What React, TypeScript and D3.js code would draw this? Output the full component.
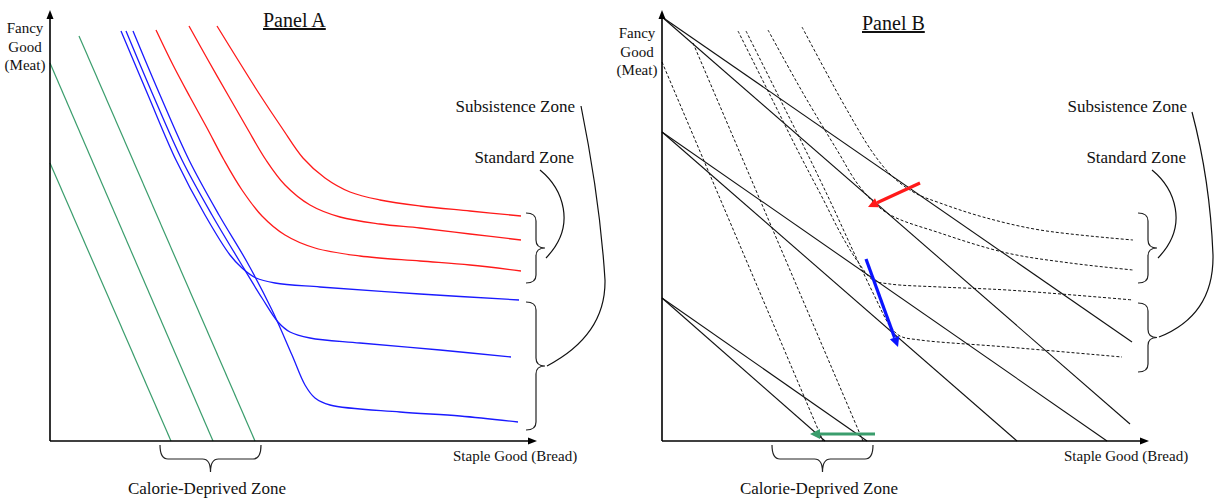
import React, { useEffect } from "react";
import * as d3 from "d3";

type Pt = [number, number];

// ---------- data (x = staple good / bread, y = fancy good / meat), arbitrary units ----------
const X_MAX = 97.4;
const Y_MAX = 86.2;

// Panel A: indifference curves
const redCurvesA: Pt[][] = [
  [[21.2, 82.2], [24.6, 75.2], [28, 68.8], [31.4, 62.6], [34.8, 56.2], [38.4, 50.2], [42.4, 45], [47, 41.2], [53, 38.6], [62, 37], [74, 36], [84, 35.2], [94.2, 34]],
  [[27.8, 83], [31.6, 76.2], [35.6, 69.2], [39.4, 62.6], [43.2, 56.2], [47, 51.2], [52, 47.2], [58, 44.8], [66, 43.4], [74, 42.6], [84, 41.4], [94.2, 40.2]],
  [[33.4, 83], [37.6, 76.2], [42, 69.2], [46.4, 62.6], [50.6, 56.6], [55, 52.6], [60, 49.8], [66, 48.2], [74, 47], [84, 46], [94.2, 45]],
];
const blueCurvesA: Pt[][] = [
  [[14.2, 82], [19.6, 69.2], [25.2, 56.2], [31, 45.2], [36, 37.2], [38.4, 34.6], [41.2, 32.6], [45, 31.6], [54, 30.8], [74, 29.4], [93.8, 28.2]],
  [[15.2, 82], [20.6, 69.2], [26.4, 56.2], [32.4, 45.2], [38, 35.8], [42.4, 28.6], [45.6, 23.8], [48, 21.8], [52, 20.6], [62, 19.6], [78, 18.2], [92.2, 16.8]],
  [[16.6, 82], [22, 69.2], [27.8, 56.2], [33.8, 45.2], [39.4, 35.8], [44.4, 26.2], [48.4, 17.2], [51, 11.2], [53, 8.6], [56, 7.2], [70, 5.8], [82, 5], [93.6, 3.8]],
];
const greenLinesA: Pt[][] = [
  [[0, 55.6], [24.2, 0]],
  [[0, 75.6], [32.6, 0]],
  [[5.8, 81], [41, 0]],
];

// Panel B: dashed indifference curves
const redLikeCurvesB: Pt[][] = [
  [[28, 82.8], [32.6, 74.2], [37, 66.2], [42.2, 57.6], [46.2, 52.8], [50.6, 49.6], [55.6, 47.6], [64.2, 44.8], [75.6, 42.2], [94.2, 40.2]],
  [[21.2, 82.2], [25.6, 74.2], [29, 68.2], [35, 58.2], [39.6, 50.8], [45, 45.6], [55.6, 41.6], [69, 37.6], [81.6, 35.6], [94.2, 34.2]],
];
const blueLikeCurvesB: Pt[][] = [
  [[15.2, 82], [21.6, 69.2], [27.6, 57.2], [32, 48.8], [36, 41], [39.2, 35.8], [42.2, 32.2], [45.6, 31.4], [55.6, 30.8], [69, 30.2], [94.2, 28.2]],
  [[16.8, 82], [23.2, 69.2], [29.2, 57.2], [34, 47.2], [38.6, 37.2], [42.6, 28.8], [45.6, 23], [47.6, 21], [51.6, 20.2], [69, 18.8], [92, 16.8]],
];
const greenLikeLinesB: Pt[][] = [
  [[0, 75.8], [32.2, 0]],
  [[6.2, 79.6], [40.2, 0]],
];
// Panel B: budget lines
const budgetLinesB: Pt[][] = [
  [[0, 84.8], [94, 19.8]],
  [[0, 84.8], [93.6, 3.4]],
  [[0, 61.8], [89, 0]],
  [[0, 61.8], [71, 0]],
  [[0, 28.6], [41, 0]],
  [[0, 28.6], [32.6, 0]],
];
// Panel B: shift arrows (from, to)
const shiftArrowsB: [Pt, Pt][] = [
  [[51.6, 51.6], [41.2, 46.8]],
  [[40.8, 36.4], [47.2, 18.8]],
  [[42.6, 1.4], [29.6, 1.4]],
];
const shiftArrowColors = ["#ff1a1a", "#0a14ff", "#3a9d6c"];

// Zones (brace spans in data units)
const standardZoneSpan: [number, number] = [45.6, 31.6];
const subsistenceZoneSpanA: [number, number] = [27.8, 2.2];
const subsistenceZoneSpanB: [number, number] = [27.6, 13.8];
const calorieZoneSpan: [number, number] = [22, 42.2];
const braceX = 95.2;

const axisLabelY = ["Fancy", "Good", "(Meat)"];
const axisLabelX = "Staple Good (Bread)";

// ---------- drawing helpers ----------
const FONT = "'Liberation Serif', 'Times New Roman', Times, serif";
const RED = "#ff1a1a";
const BLUE = "#1a1aff";
const GREEN = "#3a9d6c";

function vBrace(xt: number, y1: number, y2: number, d1 = 10, d2 = 19, r = 8) {
  const xl = xt + d1, xp = xt + d2, ym = (y1 + y2) / 2;
  return `M${xt},${y1} Q${xl},${y1} ${xl},${y1 + r} L${xl},${ym - r} Q${xl},${ym} ${xp},${ym} Q${xl},${ym} ${xl},${ym + r} L${xl},${y2 - r} Q${xl},${y2} ${xt},${y2}`;
}
function hBrace(x1: number, x2: number, yt: number, d1 = 14, d2 = 27, r = 8) {
  const xm = (x1 + x2) / 2, yl = yt + d1, yp = yt + d2;
  return `M${x1},${yt} Q${x1},${yl} ${x1 + r},${yl} L${xm - r},${yl} Q${xm},${yl} ${xm},${yp} Q${xm},${yl} ${xm + r},${yl} L${x2 - r},${yl} Q${x2},${yl} ${x2},${yt}`;
}
function head(x1: number, y1: number, x2: number, y2: number, len: number, hw: number) {
  const dx = x2 - x1, dy = y2 - y1, L = Math.hypot(dx, dy);
  const ux = dx / L, uy = dy / L;
  const bx = x2 - ux * len, by = y2 - uy * len;
  return {
    pts: `${x2},${y2} ${bx - uy * hw},${by + ux * hw} ${bx + uy * hw},${by - ux * hw}`,
    bx, by,
  };
}

type Scale = d3.ScaleLinear<number, number>;

type PanelProps = {
  x0: number;
  title: string;
  titleX: number;
  titleY: number;
  yLabelX: number;
  yLabelBase: number;
  children: (x: Scale, y: Scale) => React.ReactNode;
  subsistenceSpan: [number, number];
  standardLabelEnd: number;
  subsistenceLabelEnd: number;
  subsistencePath: string;
  standardPath: string;
  xLabelX: number;
  calorieLabelX: number;
};

const textStyle: React.CSSProperties = { fontFamily: FONT, fill: "#111" };

function Panel(p: PanelProps) {
  const x = d3.scaleLinear().domain([0, X_MAX]).range([p.x0, p.x0 + 487]);
  const y = d3.scaleLinear().domain([0, Y_MAX]).range([441, 10]);
  const ox = x(0), oy = y(0);
  const yTop = y(Y_MAX), xEnd = x(X_MAX);
  const yHead = head(ox, oy, ox, yTop, 9, 3.5);
  const xHead = head(ox, oy, xEnd, oy, 9, 3.5);
  return (
    <g>
      {p.children(x, y)}
      {/* axes */}
      <line x1={ox} y1={oy} x2={ox} y2={yHead.by} stroke="#000" strokeWidth={1.6} />
      <polygon points={yHead.pts} fill="#000" />
      <line x1={ox} y1={oy} x2={xHead.bx} y2={oy} stroke="#000" strokeWidth={1.6} />
      <polygon points={xHead.pts} fill="#000" />
      {/* braces */}
      <path d={vBrace(x(braceX), y(standardZoneSpan[0]), y(standardZoneSpan[1]))} fill="none" stroke="#222" strokeWidth={1.2} />
      <path d={vBrace(x(braceX), y(p.subsistenceSpan[0]), y(p.subsistenceSpan[1]))} fill="none" stroke="#222" strokeWidth={1.2} />
      <path d={hBrace(x(calorieZoneSpan[0]), x(calorieZoneSpan[1]), oy + 4)} fill="none" stroke="#222" strokeWidth={1.2} />
      <path d={p.standardPath} fill="none" stroke="#111" strokeWidth={1.2} />
      <path d={p.subsistencePath} fill="none" stroke="#111" strokeWidth={1.2} />
      {/* text */}
      <text x={p.titleX} y={p.titleY} style={{ ...textStyle, fontSize: "20px", textDecoration: "underline" }}>{p.title}</text>
      {axisLabelY.map((t, i) => (
        <text key={t} x={p.yLabelX} y={p.yLabelBase + i * 18.5} textAnchor="middle" style={{ ...textStyle, fontSize: "15px" }}>{t}</text>
      ))}
      <text x={p.subsistenceLabelEnd} y={112} textAnchor="end" style={{ ...textStyle, fontSize: "17px" }}>Subsistence Zone</text>
      <text x={p.standardLabelEnd} y={163} textAnchor="end" style={{ ...textStyle, fontSize: "17px" }}>Standard Zone</text>
      <text x={p.xLabelX} y={461} style={{ ...textStyle, fontSize: "15px" }}>{axisLabelX}</text>
      <text x={p.calorieLabelX} y={494} textAnchor="middle" style={{ ...textStyle, fontSize: "17px" }}>Calorie-Deprived Zone</text>
    </g>
  );
}

export default function App() {
  useEffect(() => {
    document.body.style.margin = "0";
  }, []);

  const curveFor = (x: Scale, y: Scale, curved: boolean) =>
    d3.line<Pt>()
      .x((d) => x(d[0]))
      .y((d) => y(d[1]))
      .curve(curved ? d3.curveCatmullRom.alpha(0.5) : d3.curveLinear);

  return (
    <svg width={1215} height={500} style={{ display: "block", background: "#fff", fontFamily: FONT }}>
      <Panel
        x0={50}
        title="Panel A"
        titleX={263}
        titleY={27}
        yLabelX={25}
        yLabelBase={33}
        subsistenceSpan={subsistenceZoneSpanA}
        subsistenceLabelEnd={575}
        standardLabelEnd={574}
        standardPath="M540,170 C562,188 578,225 546,258"
        subsistencePath="M581,106 Q600,200 605,280 Q606,335 547,366"
        xLabelX={453}
        calorieLabelX={207}
      >
        {(x, y) => {
          const c = curveFor(x, y, true);
          const l = curveFor(x, y, false);
          return (
            <g fill="none">
              {greenLinesA.map((d, i) => (
                <path key={"g" + i} d={l(d) || ""} stroke={GREEN} strokeWidth={1.2} />
              ))}
              {blueCurvesA.map((d, i) => (
                <path key={"b" + i} d={c(d) || ""} stroke={BLUE} strokeWidth={1.3} />
              ))}
              {redCurvesA.map((d, i) => (
                <path key={"r" + i} d={c(d) || ""} stroke={RED} strokeWidth={1.3} />
              ))}
            </g>
          );
        }}
      </Panel>
      <Panel
        x0={662}
        title="Panel B"
        titleX={862}
        titleY={30}
        yLabelX={637}
        yLabelBase={38}
        subsistenceSpan={subsistenceZoneSpanB}
        subsistenceLabelEnd={1187}
        standardLabelEnd={1186}
        standardPath="M1152,170 C1174,188 1190,225 1158,258"
        subsistencePath="M1192,112 Q1210,180 1213,255 Q1214,315 1159,337"
        xLabelX={1064}
        calorieLabelX={819}
      >
        {(x, y) => {
          const c = curveFor(x, y, true);
          const l = curveFor(x, y, false);
          return (
            <g fill="none">
              {greenLikeLinesB.map((d, i) => (
                <path key={"gd" + i} d={l(d) || ""} stroke="#111" strokeWidth={1} strokeDasharray="3,2" />
              ))}
              {[...blueLikeCurvesB, ...redLikeCurvesB].map((d, i) => (
                <path key={"cd" + i} d={c(d) || ""} stroke="#111" strokeWidth={1} strokeDasharray="3,2" />
              ))}
              {budgetLinesB.map((d, i) => (
                <path key={"bl" + i} d={l(d) || ""} stroke="#111" strokeWidth={1.1} />
              ))}
              {shiftArrowsB.map(([a, b], i) => {
                const x1 = x(a[0]), y1 = y(a[1]), x2 = x(b[0]), y2 = y(b[1]);
                const h = head(x1, y1, x2, y2, 10, 5);
                return (
                  <g key={"ar" + i}>
                    <line x1={x1} y1={y1} x2={h.bx} y2={h.by} stroke={shiftArrowColors[i]} strokeWidth={3.2} />
                    <polygon points={h.pts} fill={shiftArrowColors[i]} />
                  </g>
                );
              })}
            </g>
          );
        }}
      </Panel>
    </svg>
  );
}
